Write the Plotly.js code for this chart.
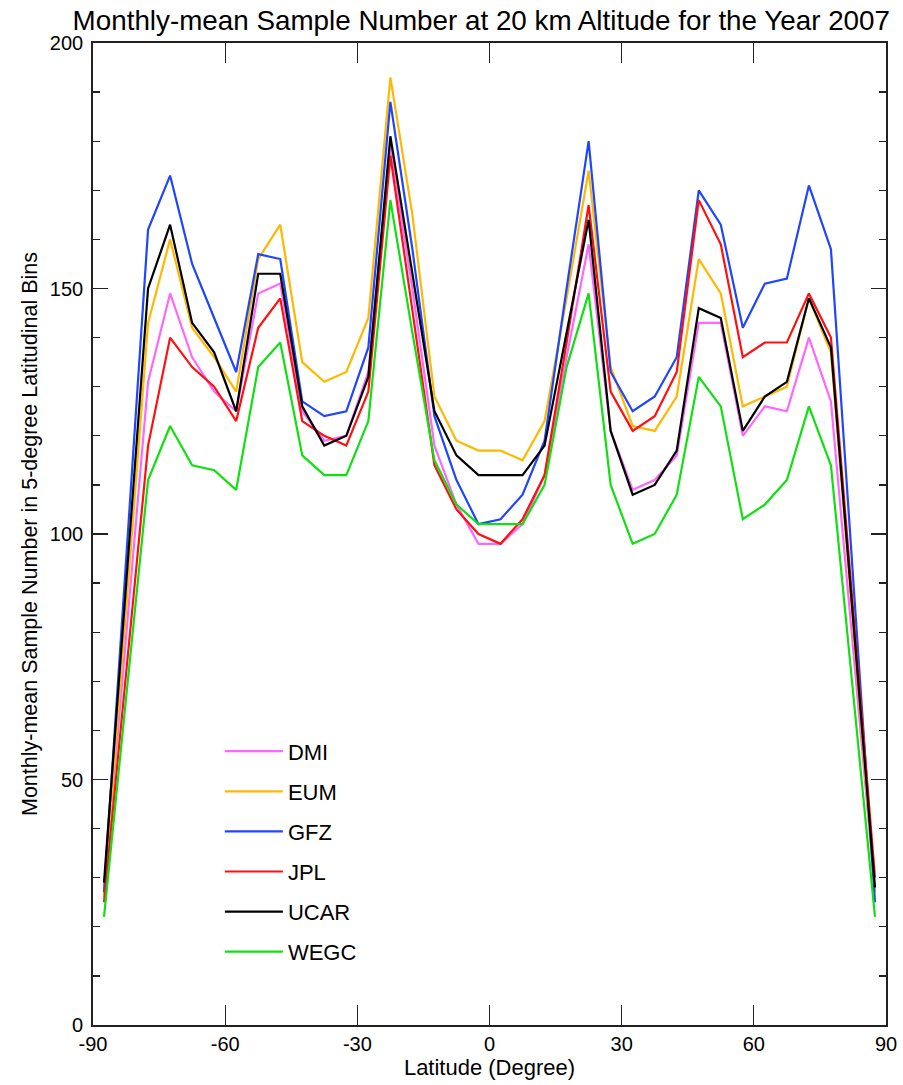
<!DOCTYPE html>
<html>
<head>
<meta charset="utf-8">
<script src="https://cdn.plot.ly/plotly-3.0.1.min.js"></script>
<style>html,body{margin:0;padding:0;background:#fff;}#chart{width:903px;height:1085px;}</style>
</head>
<body>
<div id="chart"></div>
<script>
// Latitude bin centres (degrees)
const latitude = [-87.5,-77.5,-72.5,-67.5,-62.5,-57.5,-52.5,-47.5,-42.5,-37.5,-32.5,-27.5,-22.5,-17.5,-12.5,-7.5,-2.5,2.5,7.5,12.5,17.5,22.5,27.5,32.5,37.5,42.5,47.5,52.5,57.5,62.5,67.5,72.5,77.5,87.5];

const dmi  = [27,131,149,136,129,125,149,151,125,119,120,133,179,150,118,106,98,98,102,112,136,159,121,109,111,116,143,143,120,126,125,140,127,27];
const eum  = [26,143,160,142,136,129,156,163,135,131,133,144,193,165,128,119,117,117,115,123,148,174,134,122,121,128,156,149,126,128,130,148,137,27];
const gfz  = [27,162,173,155,144,133,157,156,127,124,125,138,188,158,124,111,102,103,108,119,150,180,133,125,128,136,170,163,142,151,152,171,158,25];
const jpl  = [25,118,140,134,130,123,142,148,123,120,118,129,177,146,114,105,100,98,103,112,139,167,129,121,124,133,168,159,136,139,139,149,140,30];
const ucar = [29,150,163,143,137,125,153,153,126,118,120,132,181,153,125,116,112,112,112,118,141,164,121,108,110,117,146,144,121,128,131,148,138,28];
const wegc = [22,111,122,114,113,109,134,139,116,112,112,123,168,141,115,106,102,102,102,110,134,149,110,98,100,108,132,126,103,106,111,126,114,22];

const seriesNames = ['DMI','EUM','GFZ','JPL','UCAR','WEGC'];
const seriesData = [dmi, eum, gfz, jpl, ucar, wegc];
const seriesColors = ['#ff66ff','#ffb800','#1f45ff','#ff1010','#000000','#10e010'];

const xTickVals = [-90,-60,-30,0,30,60,90];
const yTickVals = [0,50,100,150,200];

const traces = seriesNames.map((n, i) => ({
  x: latitude,
  y: seriesData[i],
  name: n,
  type: 'scatter',
  mode: 'lines',
  legendgroup: n,
  line: {color: seriesColors[i], width: 2.2}
}));

const fontFam = 'Liberation Sans, Arial, sans-serif';

const layout = {
  width: 903,
  height: 1085,
  paper_bgcolor: '#ffffff',
  plot_bgcolor: '#ffffff',
  margin: {l: 93, r: 17, t: 43, b: 60},
  font: {family: fontFam, color: '#000', size: 20},
  title: {
    text: 'Monthly-mean Sample Number at 20 km Altitude for the Year 2007',
    font: {family: fontFam, size: 27.8, color: '#000'},
    x: 0.533, xref: 'container', xanchor: 'center',
    y: 0.981, yref: 'container', yanchor: 'middle'
  },
  xaxis: {
    range: [-90, 90],
    tickvals: xTickVals,
    ticktext: xTickVals.map(String),
    ticks: 'inside', ticklen: 20, tickwidth: 1.3, tickcolor: '#222',
    showline: true, linecolor: '#222', linewidth: 1.8, mirror: 'allticks',
    showgrid: false, zeroline: false,
    tickfont: {size: 20},
    title: {text: 'Latitude (Degree)', font: {size: 22}, standoff: 6}
  },
  yaxis: {
    range: [0, 200],
    tickvals: yTickVals,
    ticktext: yTickVals.map(String),
    ticks: 'inside', ticklen: 15, tickwidth: 1.3, tickcolor: '#222',
    minor: {dtick: 10, ticks: 'inside', ticklen: 7, tickwidth: 1.3, tickcolor: '#222', showgrid: false},
    showline: true, linecolor: '#222', linewidth: 1.8, mirror: 'allticks',
    showgrid: false, zeroline: false,
    tickfont: {size: 20},
    ticklabelstandoff: 4,
    title: {text: 'Monthly-mean Sample Number in 5-degree Latitudinal Bins', font: {size: 21.5}, standoff: 6}
  },
  showlegend: true,
  legend: {
    x: 0.160, y: 0.300, xanchor: 'left', yanchor: 'top',
    font: {size: 22, family: fontFam, color: '#000'},
    traceorder: 'grouped',
    tracegroupgap: 8.5,
    itemwidth: 58,
    bgcolor: 'rgba(0,0,0,0)',
    borderwidth: 0
  }
};

Plotly.newPlot('chart', traces, layout, {displayModeBar: false, staticPlot: true});
</script>
</body>
</html>
